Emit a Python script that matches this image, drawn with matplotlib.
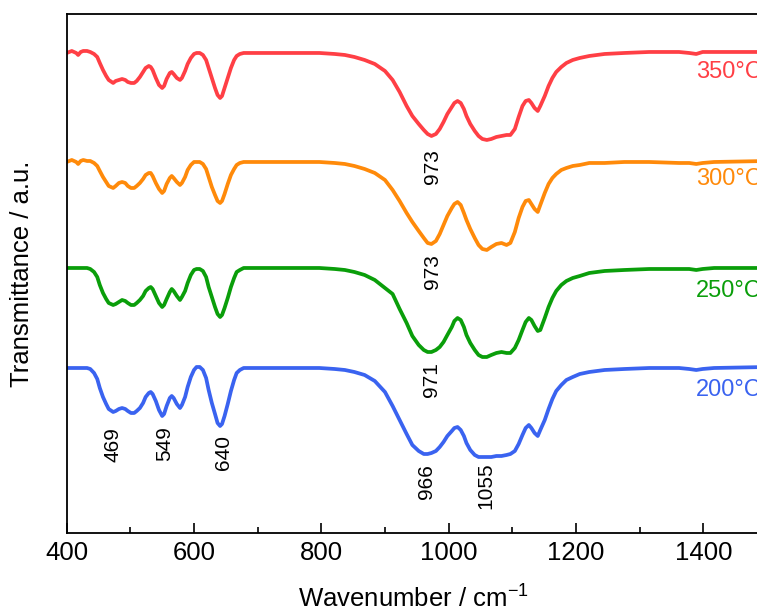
import matplotlib
matplotlib.use('Agg')
import matplotlib.pyplot as plt
from matplotlib.ticker import MultipleLocator

plt.rcParams['font.family'] = ['Liberation Sans', 'DejaVu Sans']
plt.rcParams['mathtext.fontset'] = 'custom'
plt.rcParams['mathtext.rm'] = 'Liberation Sans'
plt.rcParams['mathtext.it'] = 'Liberation Sans:italic'

# wavenumber grid (cm-1), shared by all spectra
wavenumber = [400, 408, 415, 418, 422, 426, 432, 437, 443, 448,
              452, 457, 462, 466, 473, 477, 482, 487, 492, 496,
              501, 506, 510, 515, 520, 524, 529, 532, 535, 540,
              545, 550, 553, 557, 562, 565, 568, 573, 578, 581,
              586, 590, 595, 600, 604, 609, 614, 619, 623, 628,
              633, 637, 641, 644, 648, 653, 658, 663, 667, 672,
              678, 688,
              719, 766, 797, 821, 837, 852, 868, 884, 900, 912,
              923, 934, 943, 953, 961, 967, 973, 980, 986, 992,
              998, 1005, 1009, 1014, 1019, 1024, 1028, 1034, 1041, 1047,
              1053, 1060, 1067, 1075, 1083, 1091, 1097, 1104, 1110, 1116,
              1121, 1126, 1130, 1135, 1140, 1144, 1151, 1157, 1163, 1169,
              1177, 1185, 1195, 1206, 1221, 1245, 1276, 1315, 1362, 1378,
              1389, 1399, 1417, 1500]

# stacked transmittance (a.u.)
t_200 = [165, 165, 165, 165, 165, 165, 165, 164, 160, 154,
         145, 136, 129, 124, 121, 122, 124, 125, 124, 122,
         120, 120, 122, 125, 130, 136, 140, 141, 139, 132,
         123, 117, 119, 127, 135, 137, 135, 129, 125, 128,
         136, 146, 156, 163, 166, 166, 163, 155, 143, 130,
         119, 110, 107, 109, 117, 129, 142, 153, 160, 163,
         165, 165,
         165, 165, 165, 164, 163, 161, 158, 152, 141, 127,
         113, 99, 88, 82, 79, 79, 80, 82, 86, 91,
         97, 102, 105, 106, 103, 97, 90, 83, 78, 76,
         76, 76, 76, 77, 77, 78, 79, 82, 89, 98,
         105, 108, 105, 100, 97, 103, 113, 124, 134, 142,
         148, 153, 156, 159, 161, 163, 164, 165, 165, 164,
         163, 164, 165, 166]

t_250 = [265, 265, 265, 265, 265, 265, 265, 264, 261, 256,
         248, 240, 234, 230, 228, 229, 231, 233, 232, 230,
         228, 228, 230, 233, 237, 242, 245, 246, 244, 237,
         230, 226, 228, 234, 241, 244, 242, 237, 233, 236,
         242, 250, 258, 263, 264, 264, 262, 256, 246, 236,
         226, 219, 216, 218, 225, 235, 246, 255, 261, 263,
         265, 265,
         265, 265, 265, 264, 263, 261, 258, 253, 245, 239,
         224, 210, 197, 188, 183, 181, 181, 183, 186, 191,
         198, 206, 212, 215, 213, 206, 198, 190, 183, 178,
         176, 176, 178, 180, 181, 180, 180, 185, 193, 203,
         211, 215, 213, 207, 202, 203, 215, 226, 235, 242,
         248, 252, 255, 257, 260, 262, 263, 264, 264, 264,
         263, 264, 265, 265]

t_300 = [371, 373, 371, 369, 372, 373, 372, 372, 370, 367,
         362, 356, 351, 347, 345, 347, 350, 351, 350, 347,
         345, 345, 347, 350, 354, 358, 360, 360, 357, 350,
         344, 340, 342, 349, 355, 357, 355, 351, 348, 350,
         356, 363, 368, 371, 371, 371, 369, 364, 356, 346,
         338, 332, 330, 332, 339, 349, 358, 364, 368, 370,
         371, 371,
         371, 371, 371, 370, 369, 367, 364, 360, 353, 343,
         332, 320, 311, 302, 295, 290, 289, 292, 299, 308,
         317, 325, 329, 331, 328, 320, 313, 304, 295, 288,
         284, 283, 286, 289, 290, 288, 290, 301, 315, 326,
         332, 333, 329, 324, 321, 328, 340, 349, 355, 359,
         363, 365, 367, 368, 370, 370, 371, 371, 370, 370,
         369, 370, 371, 372]

t_350 = [480, 482, 480, 478, 481, 482, 482, 481, 479, 476,
         470, 463, 457, 453, 450, 452, 453, 454, 453, 451,
         450, 450, 452, 456, 461, 465, 467, 466, 463, 455,
         448, 445, 447, 454, 460, 461, 459, 455, 453, 455,
         462, 469, 475, 479, 480, 480, 478, 473, 465, 455,
         445, 438, 435, 437, 445, 455, 465, 473, 477, 479,
         480, 480,
         480, 480, 480, 479, 478, 476, 473, 469, 462, 453,
         441, 427, 417, 409, 403, 399, 397, 399, 404, 411,
         419, 426, 430, 432, 430, 424, 417, 409, 402, 397,
         394, 393, 394, 396, 397, 398, 398, 404, 416, 427,
         432, 433, 430, 425, 422, 427, 437, 447, 455, 461,
         466, 470, 473, 475, 477, 479, 480, 481, 481, 480,
         479, 481, 481, 481]

temps = ['200°C', '250°C', '300°C', '350°C']
colors = ['#3A63F0', '#0A9E0A', '#FF8A0A', '#FF3F45']
spectra = [t_200, t_250, t_300, t_350]
temp_label_y = [143, 242, 354, 461]

# peak labels
peak_text = ['469', '549', '640', '966', '1055', '971', '973', '973']
peak_x = [472, 554, 646, 965, 1058, 973, 975, 975]
peak_y = [88, 89, 80, 51, 47, 153, 261, 366]

fig = plt.figure(figsize=(7.57, 6.13), dpi=100)
ax = fig.add_axes([0.0881, 0.1305, 0.925, 0.8467])

for t, c, lab, ly in zip(spectra, colors, temps, temp_label_y):
    ax.plot(wavenumber, t, color=c, lw=2.7, solid_joinstyle='round', solid_capstyle='round')
    ax.text(1389, ly, lab, color=c, fontsize=17, ha='left', va='center')

for s, x, y in zip(peak_text, peak_x, peak_y):
    ax.text(x, y, s, rotation=90, fontsize=15, ha='center', va='center')

ax.set_xlim(400, 1500)
ax.set_ylim(0, 519)
ax.set_yticks([])
ax.xaxis.set_major_locator(MultipleLocator(200))
ax.xaxis.set_minor_locator(MultipleLocator(100))
ax.tick_params(axis='x', which='major', direction='in', length=7, width=1.2,
               labelsize=18.5, pad=6, top=False)
ax.tick_params(axis='x', which='minor', direction='in', length=4, width=1.2, top=False)
for sp in ax.spines.values():
    sp.set_linewidth(1.3)

ax.set_xlabel('Wavenumber / cm$^{-1}$', fontsize=18.5)
ax.xaxis.set_label_coords(0.495, -0.10)
ax.set_ylabel('Transmittance / a.u.', fontsize=18.5)
ax.yaxis.set_label_coords(-0.047, 0.5)

fig.savefig('out.png', dpi=100)
